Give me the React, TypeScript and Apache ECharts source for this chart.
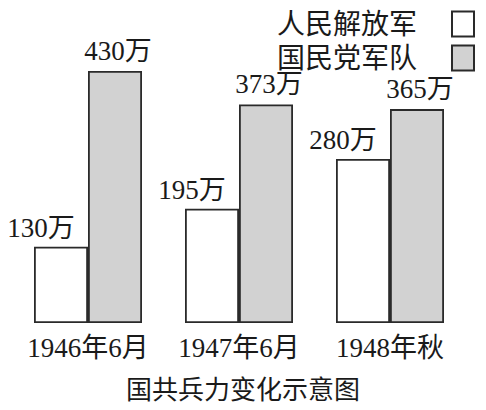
import React, { useEffect, useRef } from "react";
import * as echarts from "echarts";

const categories = ["1946年6月", "1947年6月", "1948年秋"];
const pla = [130, 195, 280];
const kmt = [430, 373, 365];
const seriesNames = ["人民解放军", "国民党军队"];
const titleText = "国共兵力变化示意图";

const FONT = "'Liberation Serif', 'Noto Sans CJK SC', serif";

export default function App() {
  const ref = useRef<HTMLDivElement>(null);
  useEffect(() => {
    if (!ref.current) return;
    const chart = echarts.init(ref.current, null, { renderer: "svg" });
    chart.setOption({
      animation: false,
      backgroundColor: "#ffffff",
      textStyle: { fontFamily: FONT, color: "#1a1a1a" },
      title: {
        text: titleText,
        left: "center",
        top: 377,
        padding: 0,
        textStyle: { fontFamily: FONT, fontSize: 26, fontWeight: "normal", color: "#1a1a1a" },
      },
      legend: {
        orient: "vertical",
        right: 11,
        top: 10,
        align: "right",
        icon: "rect",
        itemWidth: 22,
        itemHeight: 25,
        itemGap: 6,
        padding: 0,
        textStyle: { fontFamily: FONT, fontSize: 28, color: "#1a1a1a", padding: [0, 30, 0, 0] },
        data: seriesNames,
      },
      grid: { left: 12.5, right: 20.5, top: 30, bottom: 87 },
      xAxis: {
        type: "category",
        data: categories,
        axisLine: { show: false },
        axisTick: { show: false },
        axisLabel: { interval: 0, fontFamily: FONT, fontSize: 27, color: "#1a1a1a", margin: 11 },
      },
      yAxis: {
        type: "value",
        min: 0,
        max: 500,
        show: false,
        splitLine: { show: false },
      },
      series: [
        {
          name: seriesNames[0],
          type: "bar",
          data: pla,
          barWidth: 54,
          barGap: "0%",
          itemStyle: { color: "#ffffff", borderColor: "#2a2a2a", borderWidth: 1.8 },
          label: {
            show: true,
            position: "top",
            offset: [-20, 0],
            distance: 5,
            formatter: "{c}万",
            fontFamily: FONT,
            fontSize: 27,
            color: "#1a1a1a",
          },
        },
        {
          name: seriesNames[1],
          type: "bar",
          data: kmt,
          barWidth: 54,
          barGap: "0%",
          itemStyle: { color: "#d2d2d2", borderColor: "#2a2a2a", borderWidth: 1.8 },
          label: {
            show: true,
            position: "top",
            offset: [3, 0],
            distance: 7,
            formatter: "{c}万",
            fontFamily: FONT,
            fontSize: 27,
            color: "#1a1a1a",
          },
        },
      ],
    });
    return () => chart.dispose();
  }, []);
  return (
    <div
      ref={ref}
      style={{ position: "absolute", left: 0, top: 0, width: 486, height: 410 }}
    />
  );
}
